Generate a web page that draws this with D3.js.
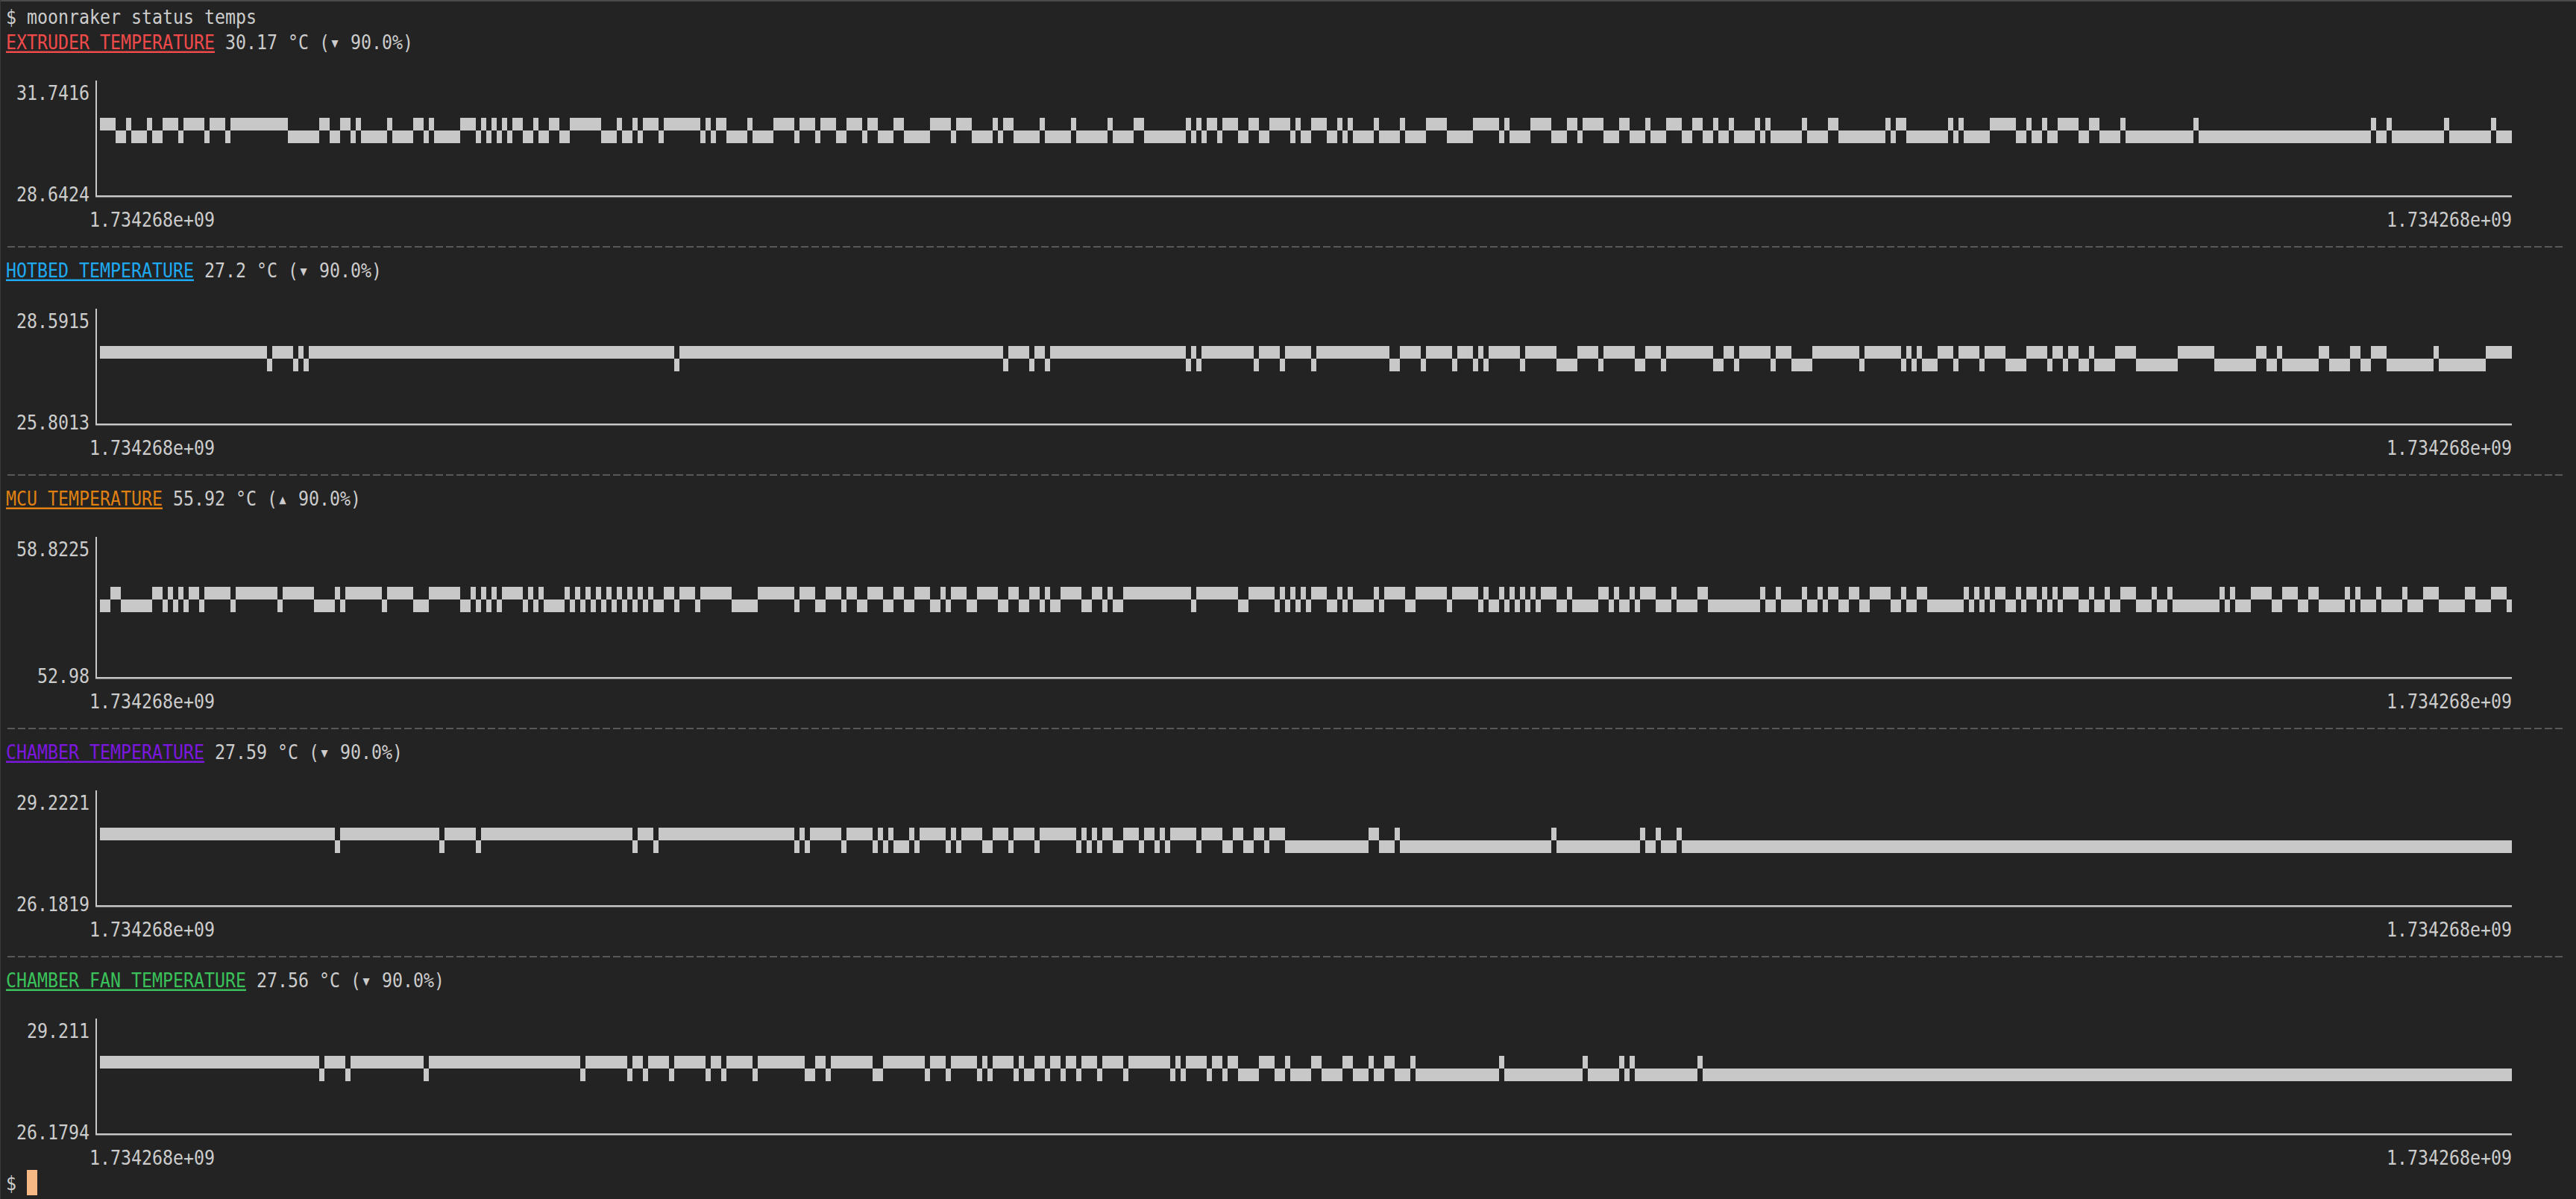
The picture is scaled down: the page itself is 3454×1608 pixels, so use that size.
<!DOCTYPE html>
<html><head><meta charset="utf-8">
<script src="https://cdn.jsdelivr.net/npm/d3@7/dist/d3.min.js"></script>
<style>
html,body{margin:0;padding:0;background:#232323;overflow:hidden}
svg{display:block}
</style></head><body>
<svg id="chart" width="3454" height="1608"></svg>
<script>
// ---------------- data ----------------
const commandLine = "$ moonraker status temps";
const sensorNames = ["EXTRUDER TEMPERATURE", "HOTBED TEMPERATURE", "MCU TEMPERATURE", "CHAMBER TEMPERATURE", "CHAMBER FAN TEMPERATURE"];
const currentValues = ["30.17", "27.2", "55.92", "27.59", "27.56"];
const trendArrows = ["▾", "▾", "▴", "▾", "▾"];
const trendPercents = ["90.0%", "90.0%", "90.0%", "90.0%", "90.0%"];
const yMinValues = [28.6424, 25.8013, 52.98, 26.1819, 26.1794];
const yMaxValues = [31.7416, 28.5915, 58.8225, 29.2221, 29.211];
const yMinLabels = ["28.6424", "25.8013", "52.98", "26.1819", "26.1794"];
const yMaxLabels = ["31.7416", "28.5915", "58.8225", "29.2221", "29.211"];
const xTickLabels = ["1.734268e+09", "1.734268e+09"];

// two distinct readings per sensor: [higher, lower] (°C)
const extruderReadings = [30.23, 30.15];
const hotbedReadings = [27.2, 27.16];
const mcuReadings = [56.0, 55.8];
const chamberReadings = [27.8, 27.59];
const chamberFanReadings = [27.8, 27.56];

// run lengths of consecutive samples: positive = higher reading, negative = lower reading
const extruderRuns = [3,-2,1,-3,1,-2,3,-1,4,-1,3,-1,11,-6,2,-2,2,-1,1,-5,1,-4,2,-1,1,-5,3,-1,1,-1,1,-1,1,-1,2,-2,1,-2,2,-2,6,-3,1,-2,1,-1,3,-1,7,-1,1,-1,2,-4,1,-4,4,-1,3,-1,3,-2,3,-1,2,-3,2,-5,4,-1,3,-4,1,-1,2,-5,1,-5,1,-6,1,-4,2,-8,1,-1,1,-1,2,-1,3,-2,2,-2,4,-1,1,-2,3,-2,1,-1,1,-4,1,-4,1,-4,4,-5,5,-1,1,-4,4,-3,2,-1,4,-3,2,-3,1,-3,3,-2,2,-2,1,-2,1,-4,1,-1,1,-6,1,-4,2,-9,1,-1,2,-8,1,-1,1,-5,5,-2,1,-2,1,-2,4,-2,2,-4,1,-13,1,-33,1,-2,1,-10,1,-8,1,-3];
const hotbedRuns = [32,-1,4,-1,1,-1,70,-1,62,-1,4,-1,2,-1,26,-1,1,-1,10,-1,4,-1,5,-1,14,-2,4,-1,5,-1,3,-1,1,-1,6,-1,6,-4,4,-1,6,-2,3,-1,9,-2,2,-1,6,-1,3,-4,9,-1,7,-1,1,-1,1,-3,3,-1,4,-1,4,-4,4,-1,2,-1,2,-2,1,-4,4,-8,7,-8,2,-2,1,-7,2,-4,2,-2,3,-9,1,-9,5];
const mcuRuns = [-2,2,-6,2,-1,1,-1,1,-1,2,-1,5,-1,8,-1,6,-4,1,-1,7,-1,5,-3,6,-2,1,-1,1,-1,1,-1,4,-1,1,-1,1,-4,1,-1,1,-1,1,-1,1,-1,1,-1,1,-1,1,-1,1,-1,1,-2,2,-1,3,-1,6,-5,7,-1,3,-2,3,-1,2,-2,3,-2,2,-2,3,-2,1,-1,3,-2,4,-2,2,-2,2,-1,1,-2,4,-2,2,-1,1,-2,13,-1,8,-2,5,-1,1,-1,1,-1,1,-1,3,-2,1,-1,1,-4,1,-1,4,-2,6,-1,5,-1,1,-2,1,-1,1,-1,1,-1,1,-1,3,-2,1,-5,2,-1,1,-2,1,-1,3,-3,1,-4,2,-10,1,-2,1,-4,1,-2,1,-1,2,-2,2,-2,4,-2,1,-2,2,-7,1,-1,1,-1,1,-1,2,-2,1,-1,2,-1,1,-1,1,-1,3,-2,1,-2,1,-2,3,-3,1,-2,1,-9,1,-1,1,-3,4,-2,3,-2,2,-5,1,-1,1,-3,1,-4,1,-3,3,-5,2,-3,3,-1];
const chamberRuns = [45,-1,19,-1,6,-1,29,-1,3,-1,26,-1,1,-1,6,-1,5,-1,1,-1,1,-3,1,-1,5,-1,1,-1,4,-2,3,-1,4,-1,7,-1,1,-1,1,-1,2,-2,3,-1,2,-1,1,-1,5,-1,4,-2,2,-2,2,-1,3,-16,2,-3,1,-29,1,-16,1,-2,1,-3,1,-159];
const chamberFanRuns = [42,-1,4,-1,14,-1,29,-1,8,-1,2,-1,4,-1,6,-1,2,-1,5,-1,9,-2,2,-1,8,-2,8,-1,3,-1,5,-1,1,-1,4,-1,1,-2,2,-1,2,-1,2,-1,3,-1,4,-1,8,-1,1,-1,4,-1,2,-1,2,-4,3,-2,1,-4,2,-4,2,-3,1,-2,2,-3,1,-16,1,-15,1,-6,1,-1,1,-12,1,-155];

// ---------------- layout (terminal grid) ----------------
const W = 3454, H = 1608;
const CW = 14, RH = 34, PADX = 8, PADY = 5;
const FONT = "'DejaVu Sans Mono', monospace";
const FS = 26.5;
const BG = "#232323", FG = "#cccccc", BLOCK = "#c8c8c8", AXIS = "#c8c8c8", SEP = "#585858";
const titleColors = ["#f04a4a", "#1ea9f2", "#df8012", "#7b17df", "#3ac15a"];
const headerRows = [1, 10, 19, 29, 38];
const plotRowCounts = [5, 5, 6, 5, 5];
const separatorRows = [9, 18, 28, 37];
const promptRow = 46;
const DATA_X0 = PADX + 9 * CW, DATA_X1 = PADX + 240 * CW;

const svg = d3.select("#chart");
svg.append("rect").attr("width", W).attr("height", H).attr("fill", BG);
svg.append("rect").attr("width", W).attr("height", 2).attr("fill", "#4a4a4a");
svg.append("rect").attr("width", 1).attr("height", H).attr("fill", "#3a3a3a");

function rowTop(r) { return PADY + r * RH; }
function colX(c) { return PADX + c * CW; }
function text(col, row, str, color) {
  return svg.append("text")
    .attr("x", colX(col)).attr("y", rowTop(row) + 27)
    .attr("font-family", FONT).attr("font-size", FS)
    .attr("textLength", str.length * CW).attr("lengthAdjust", "spacingAndGlyphs")
    .attr("fill", color).attr("xml:space", "preserve")
    .style("white-space", "pre")
    .text(str);
}

function expand(runs, readings) {
  const out = [];
  runs.forEach(r => {
    const v = r > 0 ? readings[0] : readings[1];
    for (let k = 0; k < Math.abs(r); k++) out.push(v);
  });
  return out;
}

const series = [
  expand(extruderRuns, extruderReadings),
  expand(hotbedRuns, hotbedReadings),
  expand(mcuRuns, mcuReadings),
  expand(chamberRuns, chamberReadings),
  expand(chamberFanRuns, chamberFanReadings)
];

// command line
text(0, 0, commandLine, FG);

// separators
separatorRows.forEach(r => {
  svg.append("g").selectAll("rect").data(d3.range(245)).join("rect")
    .attr("x", d => colX(d) + 2).attr("y", rowTop(r) + 19)
    .attr("width", 10).attr("height", 2).attr("fill", SEP);
});

sensorNames.forEach((name, i) => {
  const hr = headerRows[i];
  const color = titleColors[i];
  const rest = `${currentValues[i]} °C (${trendArrows[i]} ${trendPercents[i]})`;
  text(0, hr, name, color);
  text(name.length + 1, hr, rest, FG);
  svg.append("rect").attr("x", colX(0)).attr("y", rowTop(hr) + 29.5)
    .attr("width", name.length * CW).attr("height", 2.5).attr("fill", color);

  const plotTop = hr + 2;
  const nRows = plotRowCounts[i];
  const axisRow = plotTop + nRows - 1;
  const nSub = 2 * (nRows - 1);
  const subH = RH / 2;
  const canvasTop = rowTop(plotTop);

  const data = series[i];
  const x = d3.scaleLinear().domain([0, data.length]).range([DATA_X0, DATA_X1]);
  const y = d3.scaleLinear().domain([yMaxValues[i], yMinValues[i]]).range([0, nSub]);
  const subOf = v => Math.max(0, Math.min(nSub - 1, Math.floor(y(v))));

  svg.append("g").attr("shape-rendering", "crispEdges")
    .selectAll("rect").data(data).join("rect")
    .attr("x", (d, k) => x(k))
    .attr("width", (d, k) => x(k + 1) - x(k))
    .attr("y", d => canvasTop + subOf(d) * subH)
    .attr("height", subH)
    .attr("fill", BLOCK);

  // axes
  const axisY = rowTop(axisRow) + 19;
  svg.append("rect").attr("x", 128).attr("y", canvasTop + 1)
    .attr("width", 2).attr("height", axisY + 2 - canvasTop - 1).attr("fill", AXIS);
  svg.append("rect").attr("x", 128).attr("y", axisY)
    .attr("width", DATA_X1 - 128).attr("height", 2.5).attr("fill", AXIS);

  // y labels
  const yl = [yMaxLabels[i], yMinLabels[i]];
  text(8 - yl[0].length, plotTop, yl[0], FG);
  text(8 - yl[1].length, axisRow, yl[1], FG);
  // x labels
  text(8, axisRow + 1, xTickLabels[0], FG);
  text(240 - xTickLabels[1].length, axisRow + 1, xTickLabels[1], FG);
});

// prompt with cursor
text(0, promptRow, "$", FG);
svg.append("rect").attr("x", colX(2)).attr("y", rowTop(promptRow))
  .attr("width", CW).attr("height", RH).attr("fill", "#f6b985");
</script>
</body></html>
